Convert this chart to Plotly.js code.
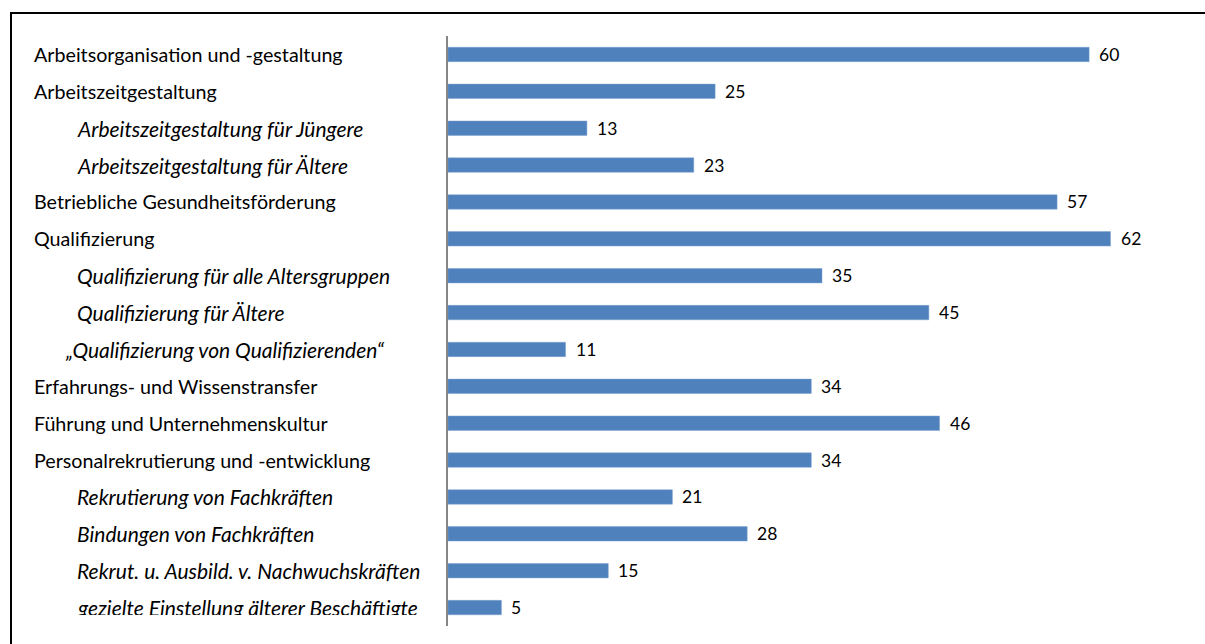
<!DOCTYPE html>
<html>
<head>
<meta charset="utf-8">
<script src="https://cdn.plot.ly/plotly-3.0.1.min.js"></script>
<style>
  html, body { margin: 0; padding: 0; background: #fff; }
  #wrap { position: relative; width: 1205px; height: 644px; overflow: hidden; }
  #chart { position: absolute; left: 0; top: 0; width: 1205px; height: 644px; }
  #frame { position: absolute; left: 10px; top: 12px; width: 1300px; height: 700px;
           border-left: 2px solid #000; border-top: 2px solid #000; pointer-events: none; }
  #clip { position: absolute; left: 60px; top: 615px; width: 380px; height: 14px; background: #fff; }
</style>
</head>
<body>
<div id="wrap">
  <div id="chart"></div>
  <div id="clip"></div>
  <div id="frame"></div>
</div>
<script>
const categories = [
  "Arbeitsorganisation und -gestaltung",
  "Arbeitszeitgestaltung",
  "Arbeitszeitgestaltung für Jüngere",
  "Arbeitszeitgestaltung für Ältere",
  "Betriebliche Gesundheitsförderung",
  "Qualifizierung",
  "Qualifizierung für alle Altersgruppen",
  "Qualifizierung für Ältere",
  "„Qualifizierung von Qualifizierenden“",
  "Erfahrungs- und Wissenstransfer",
  "Führung und Unternehmenskultur",
  "Personalrekrutierung und -entwicklung",
  "Rekrutierung von Fachkräften",
  "Bindungen von Fachkräften",
  "Rekrut. u. Ausbild. v. Nachwuchskräften",
  "gezielte Einstellung älterer Beschäftigte"
];
const values = [60, 25, 13, 23, 57, 62, 35, 45, 11, 34, 46, 34, 21, 28, 15, 5];
const isSub = [false, false, true, true, false, false, true, true, true, false, false, false, true, true, true, true];

const yIdx = categories.map((c, i) => i);
const plotLeft = 448, plotWidth = 748;
const toPaper = px => (px - plotLeft) / plotWidth;

const annotations = [];
categories.forEach((c, i) => {
  const quoted = c.startsWith("„");
  const px = isSub[i] ? (quoted ? 63 : 75) : 32;
  annotations.push({
    xref: 'paper', yref: 'y', x: toPaper(px), y: i,
    xanchor: 'left', yanchor: 'middle', showarrow: false,
    text: isSub[i] ? '<i>' + c + '</i>' : c,
    font: { family: 'Lato, sans-serif', size: isSub[i] ? 21 : 19.7, color: '#000' }
  });
  annotations.push({
    xref: 'x', yref: 'y', x: values[i], y: i,
    xanchor: 'left', yanchor: 'middle', showarrow: false, xshift: 8,
    text: String(values[i]),
    font: { family: 'Lato, sans-serif', size: 17.5, color: '#000' }
  });
});

const trace = {
  type: 'bar', orientation: 'h',
  x: values, y: yIdx,
  marker: { color: '#4f81bd', line: { color: '#7fa3d1', width: 0.5 } },
  hoverinfo: 'skip'
};

const layout = {
  width: 1205, height: 644,
  margin: { l: plotLeft, r: 1205 - plotLeft - plotWidth, t: 36, b: 18 },
  paper_bgcolor: '#fff', plot_bgcolor: '#fff',
  bargap: 0.61,
  showlegend: false,
  xaxis: { range: [0, 70], visible: false, fixedrange: true },
  yaxis: {
    range: [categories.length - 0.5, -0.5],
    showticklabels: false, ticks: '', showgrid: false, zeroline: false,
    showline: true, linecolor: '#868686', linewidth: 2, fixedrange: true
  },
  annotations: annotations
};

Plotly.newPlot('chart', [trace], layout, { displayModeBar: false, staticPlot: true });
</script>
</body>
</html>
